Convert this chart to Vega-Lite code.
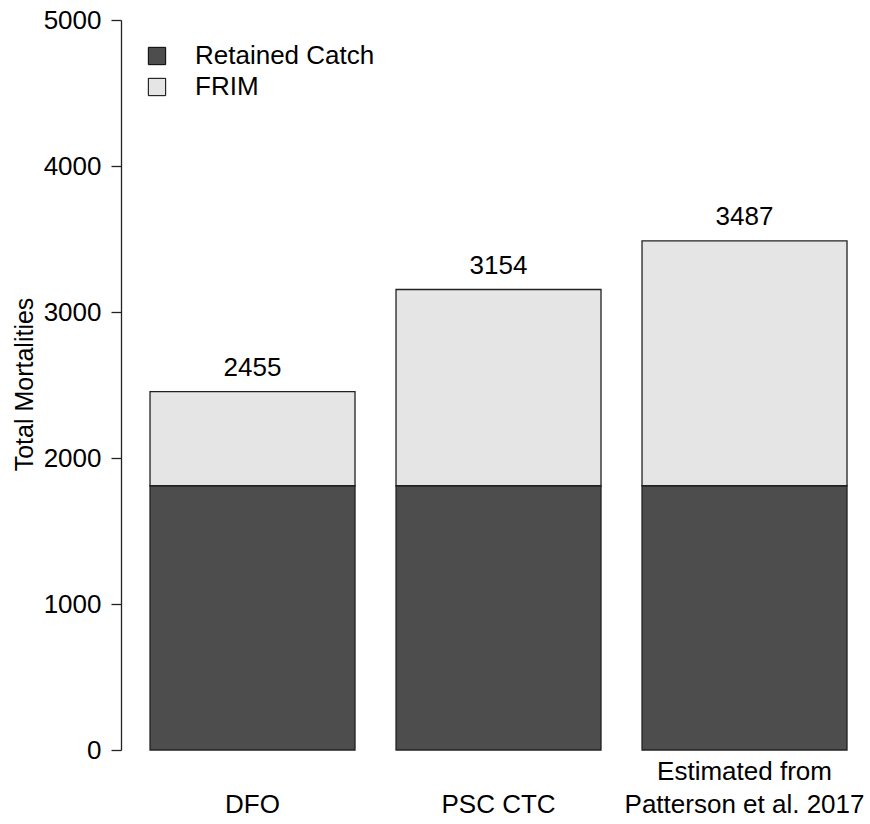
{
  "$schema": "https://vega.github.io/schema/vega-lite/v6.json",
  "autosize": "none",
  "padding": {"left": 121, "top": 20, "right": 0, "bottom": 74},
  "width": 749,
  "height": 730,
  "background": "white",
  "config": {
    "view": {"stroke": null},
    "font": "Liberation Sans",
    "text": {"font": "Liberation Sans"}
  },
  "datasets": {
    "parts": [
      {"source": "DFO", "part": "Retained Catch", "value": 1810},
      {"source": "DFO", "part": "FRIM", "value": 645},
      {"source": "PSC CTC", "part": "Retained Catch", "value": 1810},
      {"source": "PSC CTC", "part": "FRIM", "value": 1344},
      {"source": "Estimated from Patterson et al. 2017", "part": "Retained Catch", "value": 1810},
      {"source": "Estimated from Patterson et al. 2017", "part": "FRIM", "value": 1677}
    ],
    "totals": [
      {"source": "DFO", "total": 2455},
      {"source": "PSC CTC", "total": 3154},
      {"source": "Estimated from Patterson et al. 2017", "total": 3487}
    ]
  },
  "layer": [
    {
      "data": {"name": "parts"},
      "mark": {"type": "bar", "stroke": "#222222", "strokeWidth": 1.3},
      "encoding": {
        "x": {
          "field": "source",
          "type": "nominal",
          "sort": ["DFO", "PSC CTC", "Estimated from Patterson et al. 2017"],
          "scale": {"paddingInner": 0.1667, "paddingOuter": 0.1057, "align": 0.558},
          "axis": {
            "title": null,
            "domain": false,
            "ticks": false,
            "labelAngle": 0,
            "labelFontSize": 26,
            "labelColor": "#000000",
            "labelFont": "Liberation Sans",
            "labelBaseline": "alphabetic",
            "labelPadding": 29,
            "labelLineHeight": 33,
            "labelLimit": 0,
            "labelExpr": "datum.value == 'Estimated from Patterson et al. 2017' ? ['Estimated from', 'Patterson et al. 2017'] : [' ', datum.value]"
          }
        },
        "y": {
          "field": "value",
          "type": "quantitative",
          "stack": "zero",
          "scale": {"domain": [0, 5000], "nice": false},
          "axis": {
            "title": "Total Mortalities",
            "titleFontSize": 25,
            "titleFont": "Liberation Sans",
            "titleFontWeight": "normal",
            "titleColor": "#000000",
            "titleX": -97,
            "titleY": 364,
            "titleAngle": 270,
            "titleBaseline": "middle",
            "titleAlign": "center",
            "values": [0, 1000, 2000, 3000, 4000, 5000],
            "format": "d",
            "grid": false,
            "tickSize": 10,
            "tickColor": "#222222",
            "tickWidth": 1.3,
            "domainColor": "#222222",
            "domainWidth": 1.3,
            "labelFontSize": 26,
            "labelFont": "Liberation Sans",
            "labelColor": "#000000",
            "labelPadding": 10
          }
        },
        "color": {
          "field": "part",
          "type": "nominal",
          "sort": ["Retained Catch", "FRIM"],
          "scale": {"domain": ["Retained Catch", "FRIM"], "range": ["#4d4d4d", "#e5e5e5"]},
          "legend": {
            "title": null,
            "orient": "none",
            "legendX": 23,
            "legendY": 23,
            "padding": 0,
            "symbolType": "square",
            "symbolSize": 300,
            "symbolStrokeColor": "#000000",
            "symbolStrokeWidth": 1,
            "symbolOpacity": 1,
            "labelFontSize": 26,
            "labelFont": "Liberation Sans",
            "labelColor": "#000000",
            "labelOffset": 25,
            "labelLimit": 0,
            "rowPadding": 5,
            "encode": {
              "symbols": {
                "update": {
                  "fill": {"signal": "datum.value == 'FRIM' ? '#bebebe' : '#4d4d4d'"},
                  "stroke": {"value": "#000000"}
                }
              }
            }
          }
        },
        "order": {"field": "part", "sort": "descending"}
      }
    },
    {
      "data": {"name": "totals"},
      "mark": {"type": "text", "fontSize": 26, "font": "Liberation Sans", "color": "#000000", "baseline": "alphabetic", "dy": -16},
      "encoding": {
        "x": {"field": "source", "type": "nominal", "sort": ["DFO", "PSC CTC", "Estimated from Patterson et al. 2017"]},
        "y": {"field": "total", "type": "quantitative"},
        "text": {"field": "total", "type": "quantitative", "format": "d"}
      }
    }
  ]
}
